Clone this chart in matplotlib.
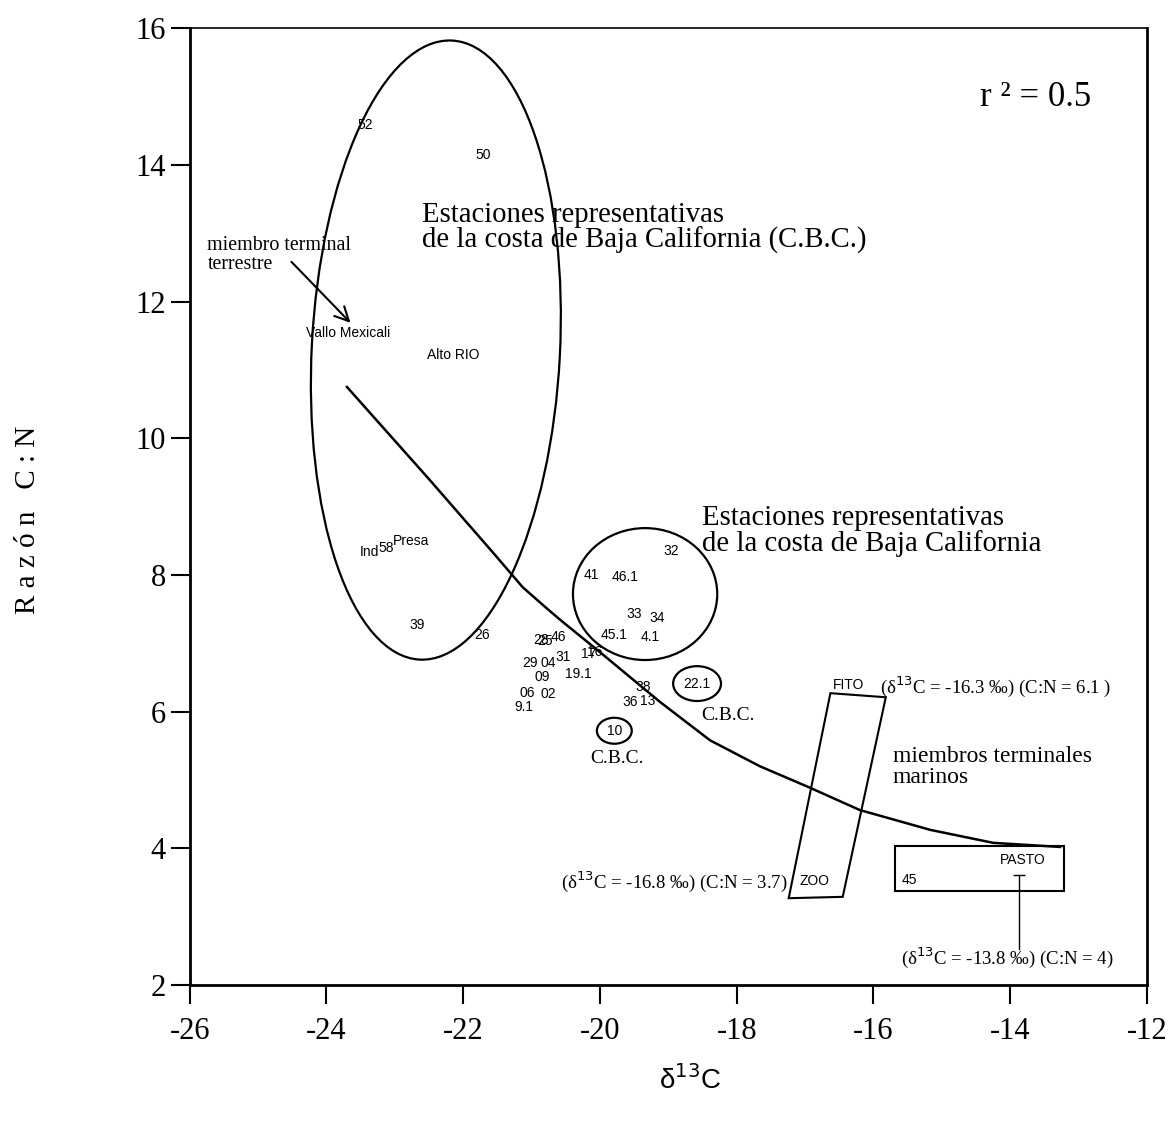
import matplotlib
matplotlib.use('Agg')
import matplotlib.pyplot as plt
from matplotlib.patches import Ellipse, Polygon, Rectangle

plt.rcParams['axes.unicode_minus'] = False

SERIF = 'Liberation Serif'
SANS = 'Liberation Sans'

# station labels (delta13C, C:N)
labels = ['52', '50', 'Vallo Mexicali', 'Alto RIO', 'Ind', '58', 'Presa', '39', '26',
          '28', '25', '46', '29', '04', '31', '09', '19.1', '17', '16', '06', '02', '9.1',
          '38', '36', '13', '10', '22.1', '41', '46.1', '32', '33', '34', '45.1', '4.1',
          'FITO', 'ZOO', '45', 'PASTO']
d13c = [-23.43, -21.71, -23.69, -22.15, -23.37, -23.13, -22.77, -22.68, -21.73,
        -20.86, -20.80, -20.61, -21.03, -20.76, -20.54, -20.84, -20.32, -20.16, -20.08, -21.06, -20.76, -21.11,
        -19.37, -19.56, -19.30, -19.79, -18.58, -20.12, -19.64, -18.96, -19.50, -19.17, -19.80, -19.27,
        -16.37, -16.86, -15.47, -13.81]
cn = [14.58, 14.14, 11.54, 11.22, 8.33, 8.39, 8.50, 7.27, 7.12,
      7.05, 7.04, 7.09, 6.71, 6.71, 6.80, 6.51, 6.55, 6.84, 6.87, 6.27, 6.26, 6.07,
      6.36, 6.14, 6.15, 5.72, 6.41, 8.00, 7.97, 8.35, 7.43, 7.37, 7.12, 7.09,
      6.39, 3.52, 3.54, 3.83]

# mixing curve, read point by point
curve_x = [-23.70, -22.49, -21.55, -21.13, -20.80, -20.59, -20.00, -19.12, -18.39, -17.66, -16.96,
           -16.20, -15.17, -14.25, -13.27]
curve_y = [10.75, 9.39, 8.31, 7.82, 7.53, 7.35, 6.87, 6.14, 5.58, 5.20, 4.90,
           4.56, 4.27, 4.08, 4.02]

# groupings: (cx, cy, width, height, angle)
ellipses = [(-22.40, 11.29, 3.63, 9.07, -3),
            (-19.34, 7.72, 2.11, 1.93, 0),
            (-19.79, 5.72, 0.51, 0.38, 0),
            (-18.58, 6.41, 0.70, 0.51, 0)]
plankton_box = [(-16.63, 6.27), (-15.82, 6.21), (-16.45, 3.29), (-17.24, 3.27)]
pasto_box = (-15.69, 3.38, 2.48, 0.65)
pasto_stem_x = [-13.87, -13.87]
pasto_stem_y = [3.61, 2.52]

fig = plt.figure(figsize=(11.71, 11.27), dpi=100)
ax = fig.add_axes([0.162, 0.126, 0.8175, 0.849])
ax.set_xlim(-26, -12)
ax.set_ylim(2, 16)
ax.set_xticks(range(-26, -11, 2))
ax.set_yticks(range(2, 17, 2))
ax.tick_params(direction='out', length=14, width=1.5, labelsize=22)
ax.tick_params(axis='y', pad=3)
ax.tick_params(axis='x', pad=9)
for lab in ax.get_xticklabels() + ax.get_yticklabels():
    lab.set_family(SERIF)
for side in ['left', 'bottom', 'right']:
    ax.spines[side].set_linewidth(2)
ax.spines['top'].set_linewidth(1.2)

ax.plot(curve_x, curve_y, color='black', lw=1.8)

for cx, cy, w, h, a in ellipses:
    ax.add_patch(Ellipse((cx, cy), w, h, angle=a, fill=False, ec='black', lw=1.6))
ax.add_patch(Polygon(plankton_box, closed=True, fill=False, ec='black', lw=1.5))
ax.add_patch(Rectangle(pasto_box[:2], pasto_box[2], pasto_box[3], fill=False, ec='black', lw=1.5))
ax.plot(pasto_stem_x, pasto_stem_y, color='black', lw=1)
ax.plot([pasto_stem_x[0]], [pasto_stem_y[0]], marker='_', ms=8, color='black', mew=1)

for lab, x, y in zip(labels, d13c, cn):
    ax.text(x, y, lab, family=SANS, fontsize=10, ha='center', va='center')

ax.text(-25.74, 12.68, 'miembro terminal\nterrestre', family=SERIF, fontsize=14.4,
        va='center', linespacing=1.0)
ax.annotate('', xy=(-23.62, 11.66), xytext=(-24.54, 12.61),
            arrowprops=dict(arrowstyle='->', lw=1.5, color='black', mutation_scale=25))

ax.text(-22.61, 13.08, 'Estaciones representativas\nde la costa de Baja California (C.B.C.)',
        family=SERIF, fontsize=20.7, va='center', linespacing=0.95)
ax.text(-18.51, 8.64, 'Estaciones representativas\nde la costa de Baja California',
        family=SERIF, fontsize=20.7, va='center', linespacing=0.95)
ax.text(-19.75, 5.32, 'C.B.C.', family=SERIF, fontsize=14, ha='center', va='center')
ax.text(-18.13, 5.95, 'C.B.C.', family=SERIF, fontsize=14, ha='center', va='center')

ax.text(-15.91, 6.37, '(δ$^{13}$C = -16.3 ‰) (C:N = 6.1 )', family=SERIF, fontsize=13.5, va='center')
ax.text(-15.72, 5.19, 'miembros terminales\nmarinos', family=SERIF, fontsize=17,
        va='center', linespacing=0.95)
ax.text(-17.25, 3.51, '(δ$^{13}$C = -16.8 ‰) (C:N = 3.7)', family=SERIF, fontsize=13.5,
        ha='right', va='center')
ax.text(-14.05, 2.40, '(δ$^{13}$C = -13.8 ‰) (C:N = 4)', family=SERIF, fontsize=13.5,
        ha='center', va='center')

ax.text(-14.44, 14.99, 'r ² = 0.5', family=SERIF, fontsize=25, va='center')

fig.text(0.024, 0.539, 'R a z ó n   C : N', family=SERIF, fontsize=21, rotation=90,
         ha='center', va='center')
fig.text(0.589, 0.042, 'δ$^{13}$C', family=SANS, fontsize=20, ha='center', va='center')

fig.savefig('out.png', dpi=100)
